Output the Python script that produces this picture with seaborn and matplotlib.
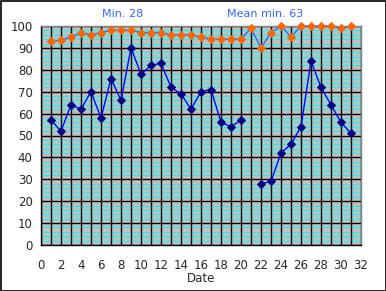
import numpy as np
import pandas as pd
import matplotlib
matplotlib.use("Agg")
import matplotlib.pyplot as plt
import seaborn as sns
from matplotlib.patches import Rectangle

days = list(range(1, 32))
min_vals = [57, 52, 64, 62, 70, 58, 76, 66, 90, 78, 82, 83, 72, 69, 62,
            70, 71, 56, 54, 57, np.nan, 28, 29, 42, 46, 54, 84, 72, 64, 56, 51]
max_vals = [93, 93.5, 95, 97, 96, 97, 98, 98, 98, 97, 97, 97, 96, 96, 96,
            95, 94, 94, 94, 94, 99, 90, 97, 100, 95, 100, 100, 100, 100, 99, 100]
x_ticks = list(range(0, 33, 2))
y_ticks = list(range(0, 101, 10))
title_left = "Min. 28"
title_right = "Mean min. 63"
x_label = "Date"

sns.set_style("white")
plt.rcParams['font.family'] = ['DejaVu Sans']

df = pd.DataFrame({"day": days, "min": min_vals, "max": max_vals})
df["seg"] = np.where(df["day"] < 21, 0, 1)

fig = plt.figure(figsize=(3.86, 2.91), dpi=100)
ax = fig.add_axes([41/386, 1-245/291, 320/386, 219/291])
ax.set_facecolor("#C0C0C0")

# minor cyan lines
for yv in np.arange(0, 100, 2):
    if yv % 10 != 0:
        ax.axhline(yv, color="#00FFFF", lw=0.75, zorder=0.5)
for xv in range(0, 33):
    ax.axvline(xv, color="black", lw=1.0, zorder=0.6)
for yv in y_ticks:
    ax.axhline(yv, color="black", lw=1.0, zorder=0.6)

# max series (orange markers, light blue line)
sns.lineplot(data=df, x="day", y="max", ax=ax, color="#3366FF", lw=1.0,
             marker="D", markersize=4.5, markerfacecolor="#FF6600",
             markeredgecolor="#FF6600", clip_on=False, zorder=3)
# min series, two segments around the missing day
d = df.dropna(subset=["min"])
for s, sub in d.groupby("seg"):
    sns.lineplot(data=sub, x="day", y="min", ax=ax, color="#0000FF", lw=1.0,
                 marker="D", markersize=4.5, markerfacecolor="#000080",
                 markeredgecolor="#000080", clip_on=False, zorder=3)

ax.set_xlim(0, 32)
ax.set_ylim(0, 100)
ax.set_xticks(x_ticks)
ax.set_yticks(y_ticks)
ax.tick_params(axis="both", direction="out", length=4, width=1, color="black",
               labelsize=8.5, pad=2)
ax.tick_params(axis="x", pad=6)
ax.set_xlabel(x_label, fontsize=8.5, labelpad=0)
ax.set_ylabel("")
for side in ["top", "right"]:
    ax.spines[side].set_color("#808080")
    ax.spines[side].set_linewidth(1)
for side in ["left", "bottom"]:
    ax.spines[side].set_color("black")
    ax.spines[side].set_linewidth(1)

fig.text(123/386, 1-14/291, title_left, color="#3366FF", fontsize=8,
         ha="center", va="center")
fig.text(265/386, 1-14/291, title_right, color="#3366FF", fontsize=8,
         ha="center", va="center")

fig.patches.append(Rectangle((0.5/386, 0.5/291), 1-1/386, 1-1/291,
                             transform=fig.transFigure, fill=False,
                             edgecolor="black", lw=1.2))
fig.savefig("out.png", dpi=100)
